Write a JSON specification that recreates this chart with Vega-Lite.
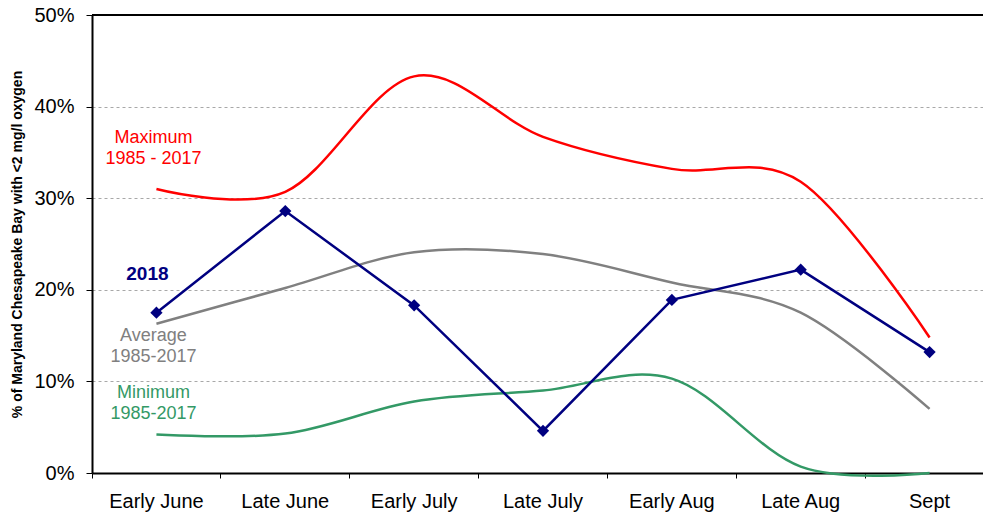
{
  "$schema": "https://vega.github.io/schema/vega-lite/v6.json",
  "autosize": {"type": "none"},
  "padding": {"left": 92, "top": 15, "right": 0, "bottom": 44},
  "width": 891,
  "height": 458,
  "config": {
    "view": {"stroke": null},
    "font": "Liberation Sans"
  },
  "datasets": {
    "series": [
      {"period": "Early June", "series": "Maximum", "value": 0.310},
      {"period": "Late June", "series": "Maximum", "value": 0.307},
      {"period": "Early July", "series": "Maximum", "value": 0.433},
      {"period": "Late July", "series": "Maximum", "value": 0.367},
      {"period": "Early Aug", "series": "Maximum", "value": 0.332},
      {"period": "Late Aug", "series": "Maximum", "value": 0.318},
      {"period": "Sept", "series": "Maximum", "value": 0.148},
      {"period": "Early June", "series": "Average", "value": 0.163},
      {"period": "Late June", "series": "Average", "value": 0.202},
      {"period": "Early July", "series": "Average", "value": 0.241},
      {"period": "Late July", "series": "Average", "value": 0.239},
      {"period": "Early Aug", "series": "Average", "value": 0.208},
      {"period": "Late Aug", "series": "Average", "value": 0.175},
      {"period": "Sept", "series": "Average", "value": 0.070},
      {"period": "Early June", "series": "Minimum", "value": 0.042},
      {"period": "Late June", "series": "Minimum", "value": 0.043},
      {"period": "Early July", "series": "Minimum", "value": 0.078},
      {"period": "Late July", "series": "Minimum", "value": 0.090},
      {"period": "Early Aug", "series": "Minimum", "value": 0.103},
      {"period": "Late Aug", "series": "Minimum", "value": 0.007},
      {"period": "Sept", "series": "Minimum", "value": 0.0},
      {"period": "Early June", "series": "2018", "value": 0.175},
      {"period": "Late June", "series": "2018", "value": 0.286},
      {"period": "Early July", "series": "2018", "value": 0.183},
      {"period": "Late July", "series": "2018", "value": 0.046},
      {"period": "Early Aug", "series": "2018", "value": 0.189},
      {"period": "Late Aug", "series": "2018", "value": 0.222},
      {"period": "Sept", "series": "2018", "value": 0.132}
    ],
    "labels": [
      {"period": "Early June", "series": "Maximum", "value": 0.366, "label": ["Maximum", "1985 - 2017"]},
      {"period": "Early June", "series": "Average", "value": 0.150, "label": ["Average", "1985-2017"]},
      {"period": "Early June", "series": "Minimum", "value": 0.087, "label": ["Minimum", "1985-2017"]}
    ],
    "label2018": [
      {"period": "Early June", "series": "2018", "value": 0.217, "label": "2018"}
    ],
    "top": [{"value": 0.5}]
  },
  "encoding": {
    "x": {
      "field": "period",
      "type": "nominal",
      "sort": ["Early June", "Late June", "Early July", "Late July", "Early Aug", "Late Aug", "Sept"],
      "scale": {"type": "band", "range": [0, 902], "paddingInner": 0, "paddingOuter": 0},
      "axis": {
        "title": null,
        "bandPosition": 0,
        "labelAngle": 0,
        "labelFontSize": 20,
        "labelColor": "#000000",
        "labelPadding": 13,
        "tickSize": 5,
        "tickColor": "#000000",
        "domainColor": "#000000",
        "domainWidth": 2,
        "labelBaseline": "top",
        "grid": false
      }
    },
    "y": {
      "field": "value",
      "type": "quantitative",
      "scale": {"domain": [0, 0.5], "nice": false, "zero": true},
      "axis": {
        "title": "% of Maryland Chesapeake Bay with <2 mg/l oxygen",
        "titleFontSize": 14,
        "titleFontWeight": "bold",
        "titleColor": "#000000",
        "titlePadding": 9,
        "format": ".0%",
        "values": [0, 0.1, 0.2, 0.3, 0.4, 0.5],
        "labelFontSize": 20,
        "labelColor": "#000000",
        "labelPadding": 12,
        "tickSize": 6,
        "tickColor": "#000000",
        "domainColor": "#000000",
        "domainWidth": 2,
        "grid": true,
        "gridColor": "#a8a8a8",
        "gridDash": [3, 3],
        "gridWidth": 1
      }
    },
    "color": {
      "field": "series",
      "type": "nominal",
      "scale": {
        "domain": ["Maximum", "Average", "Minimum", "2018"],
        "range": ["#ff0000", "#808080", "#339966", "#000080"]
      },
      "legend": null
    }
  },
  "layer": [
    {
      "data": {"name": "top"},
      "mark": {"type": "rule", "color": "#000000", "strokeWidth": 2},
      "encoding": {
        "x": null,
        "color": null,
        "y": {"field": "value", "type": "quantitative"}
      }
    },
    {
      "data": {"name": "series"},
      "transform": [{"filter": "datum.series !== '2018'"}],
      "mark": {"type": "line", "interpolate": "cardinal", "strokeWidth": 2.5}
    },
    {
      "data": {"name": "series"},
      "transform": [{"filter": "datum.series === '2018'"}],
      "mark": {"type": "line", "strokeWidth": 2.5, "point": {"shape": "diamond", "size": 150, "filled": true, "color": "#000080"}}
    },
    {
      "data": {"name": "labels"},
      "mark": {"type": "text", "fontSize": 18, "baseline": "middle", "align": "center", "lineHeight": 21, "dx": -3},
      "encoding": {
        "text": {"field": "label"}
      }
    },
    {
      "data": {"name": "label2018"},
      "mark": {"type": "text", "fontSize": 19, "fontWeight": "bold", "baseline": "middle", "align": "center", "dx": -9},
      "encoding": {
        "text": {"field": "label"}
      }
    }
  ]
}
